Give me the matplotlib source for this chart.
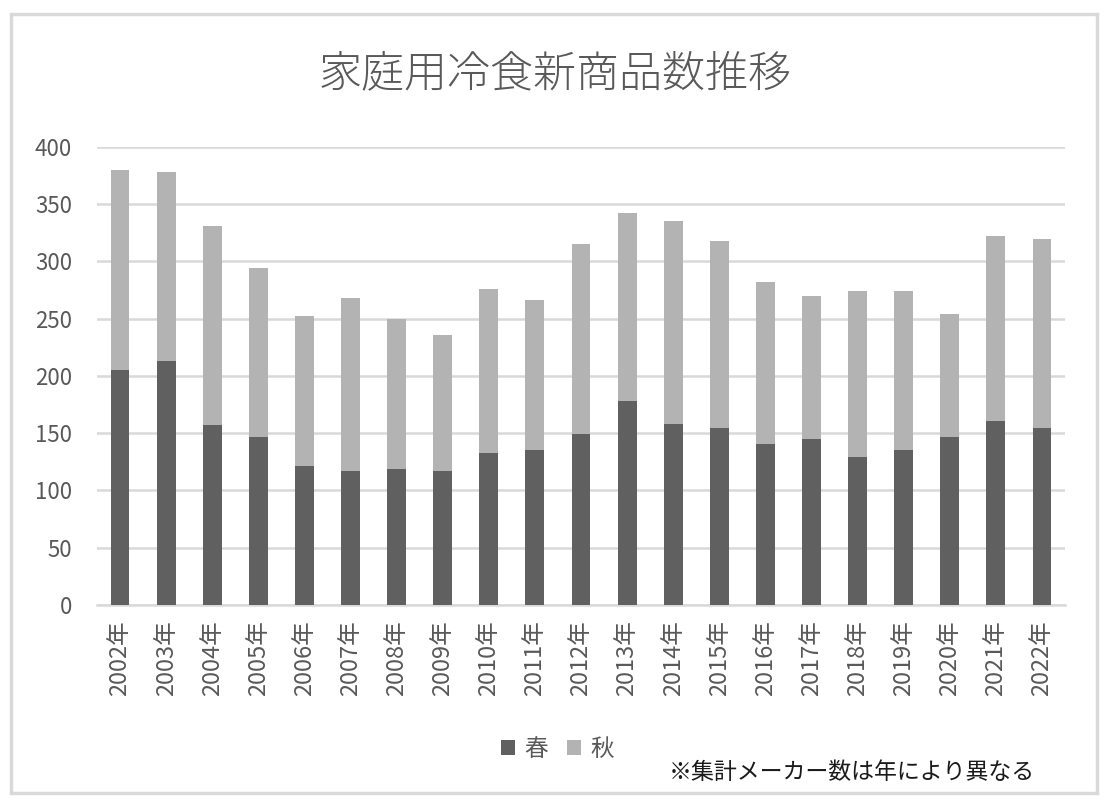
import numpy as np
import matplotlib
matplotlib.use("Agg")
import matplotlib.pyplot as plt
from matplotlib.patches import Rectangle

plt.rcParams['font.family'] = ['Noto Sans CJK JP', 'DejaVu Sans']

# data
years = [str(y) + '年' for y in range(2002, 2023)]
spring = [205, 213, 157, 147, 121, 117, 119, 117, 133, 135, 149,
          178, 158, 155, 141, 145, 129, 135, 147, 161, 155]
total = [380, 378, 331, 294, 252, 268, 250, 236, 276, 266, 315,
         342, 335, 318, 282, 270, 274, 274, 254, 322, 320]
autumn = [t - s for t, s in zip(total, spring)]

c_spring = '#606060'
c_autumn = '#b3b3b3'
c_text = '#595959'
c_grid = '#d9d9d9'

fig = plt.figure(figsize=(11.11, 8.01), dpi=100)
ax = fig.add_axes([0.0873, 0.2447, 0.8713, 0.5718])

x = np.arange(len(years))
ax.bar(x, spring, width=0.41, color=c_spring, label='春', zorder=3)
ax.bar(x, autumn, width=0.41, bottom=spring, color=c_autumn, label='秋', zorder=3)

ax.set_xlim(-0.5, len(years) - 0.5)
ax.set_ylim(0, 400)
ax.set_yticks(range(0, 401, 50))
ax.yaxis.grid(True, color=c_grid, linewidth=1.8, zorder=0)
ax.set_axisbelow(True)
for s in ['top', 'right', 'left']:
    ax.spines[s].set_visible(False)
ax.spines['bottom'].set_color(c_grid)
ax.spines['bottom'].set_linewidth(1.8)
ax.tick_params(axis='both', length=0, colors=c_text)
ax.tick_params(axis='y', labelsize=16, pad=18)
ax.set_xticks(x)
ax.set_xticklabels(years, rotation=90, fontsize=17)
ax.tick_params(axis='x', pad=11)

fig.text(0.4995, 0.908, '家庭用冷食新商品数推移', ha='center', va='center',
         fontsize=31, color=c_text, fontweight='light')

leg = fig.legend(loc='center', bbox_to_anchor=(0.502, 0.064), ncol=2, frameon=False,
                 fontsize=17, handlelength=0.6, handleheight=0.6, handletextpad=0.4,
                 columnspacing=0.8)
for t in leg.get_texts():
    t.set_color(c_text)

fig.text(0.7664, 0.035, '※集計メーカー数は年により異なる', ha='center', va='center',
         fontsize=16.5, color='#1a1a1a')

fig.patches.append(Rectangle((11 / 1111, 1 - 793 / 801), (1097 - 11) / 1111, (793 - 14) / 801,
                             transform=fig.transFigure, fill=False,
                             edgecolor=c_grid, linewidth=2.5))

fig.savefig('out.png', dpi=100)
